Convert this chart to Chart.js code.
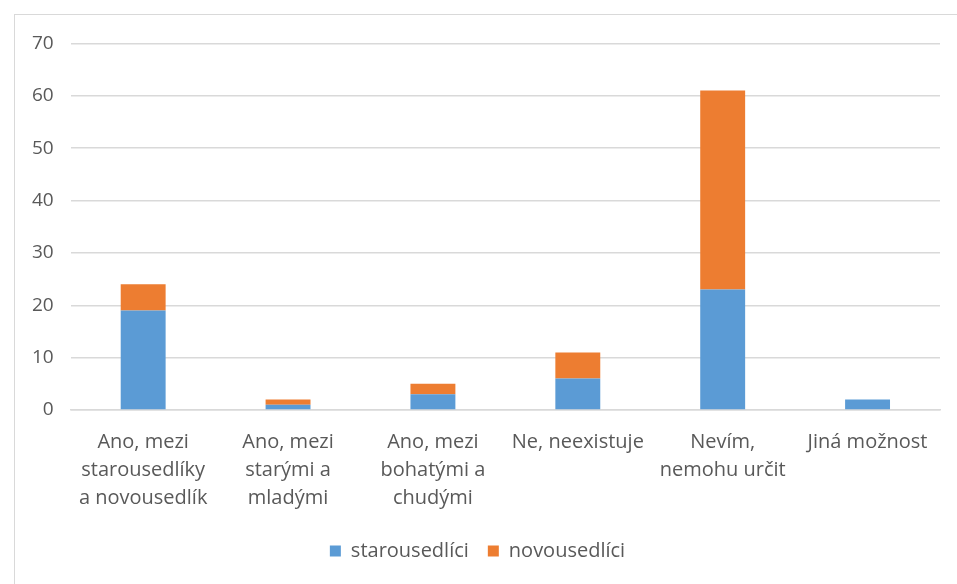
<!DOCTYPE html>
<html>
<head>
<meta charset="utf-8">
<script src="https://cdn.jsdelivr.net/npm/chart.js@4/dist/chart.umd.min.js"></script>
<style>
  body { margin: 0; background: #fff; overflow: hidden; }
  #box {
    position: absolute; left: 14px; top: 14px;
    width: 960px; height: 590px;
    border: 1px solid #d9d9d9; background: #fff;
  }
  #wrap { position: absolute; left: 0; top: 0; width: 942px; height: 569px; }
</style>
</head>
<body>
<div id="box"><div id="wrap"><canvas id="myChart"></canvas></div></div>
<script>
// Categories (multi-line labels)
let categories = [
    ["Ano, mezi", "starousedlíky", "a novousedlík"],
    ["Ano, mezi", "starými a", "mladými"],
    ["Ano, mezi", "bohatými a", "chudými"],
    "Ne, neexistuje",
    ["Nevím,", "nemohu určit"],
    "Jiná možnost"
];

// Series values
let starousedlici = [19, 1, 3, 6, 23, 2];
let novousedlici = [5, 1, 2, 5, 38, 0];

// Y axis ticks
let yMax = 70;
let yStep = 10;

let textColor = "#595959";
let gridColor = "#d9d9d9";
let fontFamily = "'Open Sans', Lato, sans-serif";

let ctx = document.getElementById('myChart').getContext('2d');
let myChart = new Chart(ctx, {
    type: 'bar',
    data: {
        labels: categories,
        datasets: [{
            label: 'starousedlíci',
            data: starousedlici,
            backgroundColor: '#5b9bd5',
            borderWidth: 0,
            barPercentage: 0.31,
            categoryPercentage: 1
        }, {
            label: 'novousedlíci',
            data: novousedlici,
            backgroundColor: '#ed7d31',
            borderWidth: 0,
            barPercentage: 0.31,
            categoryPercentage: 1
        }]
    },
    options: {
        responsive: true,
        maintainAspectRatio: false,
        animation: false,
        layout: {
            padding: { left: 0, right: 17, top: 20, bottom: 13 }
        },
        plugins: {
            legend: {
                position: 'bottom',
                labels: {
                    color: textColor,
                    font: { family: fontFamily, size: 20 },
                    boxWidth: 11,
                    boxHeight: 11,
                    padding: 19
                }
            },
            tooltip: { enabled: false }
        },
        scales: {
            x: {
                stacked: true,
                grid: { display: false },
                border: { display: true, color: gridColor, width: 1.5 },
                ticks: {
                    color: textColor,
                    font: { family: fontFamily, size: 20, lineHeight: 1.4 },
                    maxRotation: 0,
                    padding: 10
                }
            },
            y: {
                stacked: true,
                min: 0,
                max: yMax,
                grid: { color: gridColor, lineWidth: 1.5, drawTicks: false },
                border: { display: false },
                ticks: {
                    stepSize: yStep,
                    color: textColor,
                    font: { family: fontFamily, size: 19 },
                    padding: 17
                }
            }
        }
    }
});
</script>
</body>
</html>
